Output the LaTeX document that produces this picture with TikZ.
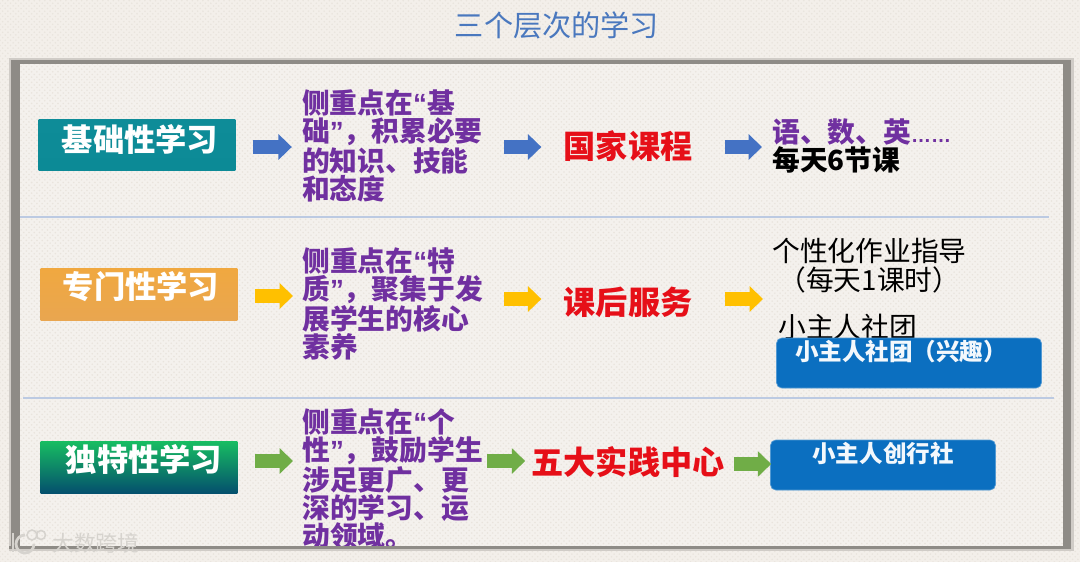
\documentclass[tikz,border=0pt]{standalone}
\usepackage{fontspec}
\setmainfont{Noto Sans CJK SC}
\newfontfamily\quotefont{Liberation Sans}
\usepackage{tikz}
\usetikzlibrary{arrows.meta, positioning, calc, patterns}

\definecolor{paper}{HTML}{F3EFEA}
\definecolor{paperdot}{HTML}{E9E4DD}
\definecolor{panel}{HTML}{F4F1ED}
\definecolor{framegray}{HTML}{8E8B86}
\definecolor{rulecol}{HTML}{BCCAE2}
\definecolor{titlecol}{HTML}{4A78BE}
\definecolor{purpletext}{HTML}{7030A0}
\definecolor{redtext}{HTML}{E60F18}
\definecolor{bluebox}{HTML}{0B6FC0}
\definecolor{markcol}{HTML}{D6D3CE}
\definecolor{arrowblue}{HTML}{4472C4}
\definecolor{arrowyellow}{HTML}{FFC000}
\definecolor{arrowgreen}{HTML}{70AD47}

\newcommand{\opq}{{\quotefont “}}
\newcommand{\clq}{{\quotefont ”}}
\newcommand{\dotsq}{{\quotefont\fontsize{11.4pt}{12pt}\selectfont ……}}

\begin{document}
\begin{tikzpicture}[
    x=0.02cm, y=-0.02cm,
    papertex/.style={fill=#1, postaction={pattern=crosshatch dots, pattern color=paperdot}},
    levelbox/.style={rectangle, minimum width=3.94cm, minimum height=1.03cm, inner sep=0pt},
    leveltext/.style={font=\fontsize{17.8pt}{20pt}\selectfont\bfseries, text=white, inner sep=0pt},
    focus/.style={font=\fontsize{15.8pt}{15.94pt}\selectfont\bfseries, text=purpletext, align=left, inner sep=0pt},
    course/.style={font=\fontsize{18.3pt}{20pt}\selectfont\bfseries, text=redtext, inner sep=0pt},
    detail/.style={font=\fontsize{15.8pt}{16pt}\selectfont, text=black, inner sep=0pt},
    clubbox/.style={rectangle, rounded corners=3pt, fill=bluebox, draw=bluebox!70!white, inner sep=0pt},
    clubtext/.style={font=\fontsize{13.4pt}{15pt}\selectfont\bfseries, text=white!95!bluebox, inner sep=0pt},
    blockarrow/.style={line width=7.6pt, color=#1, -{Triangle[length=7.6pt, width=14.2pt]}},
    rowrule/.style={draw=rulecol, line width=0.6pt},
    logostroke/.style={draw=markcol, line width=#1}
]
\useasboundingbox (0,0) rectangle (1080,562);
\fill[papertex=paper] (0,0) rectangle (1080,562);

% frame
\fill[framegray!35!paper] (9,58) rectangle (1074,551);
\fill[framegray] (11,60) rectangle (1071,548);
\fill[papertex=panel] (20,64) rectangle (1063,546);

\node[font=\fontsize{16.6pt}{18pt}\selectfont, text=titlecol, inner sep=0pt] (title) at (557,25) {三个层次的学习};

\draw[rowrule] (20,217) -- (1049,217);
\draw[rowrule] (23,398) -- (1054,398);

% first row
\coordinate (row1) at (0,147);
\node[levelbox, top color={rgb,255:red,14;green,140;blue,152}, middle color={rgb,255:red,7;green,169;blue,189}, bottom color={rgb,255:red,12;green,138;blue,150}] (basic) at (137,145) {};
\node[leveltext] (basictxt) at (140,139) {基础性学习};
\node[focus, right=1.32cm of basic, yshift=-0.01cm] (focusa) {侧重点在\opq 基\\础\clq ，积累必要\\的知识、技能\\和态度};
\node[course] (national) at (628,146) {国家课程};
\node[focus, anchor=west] (subjects) at (772,132) {语、数、英\dotsq};
\node[detail, font=\fontsize{15.8pt}{16pt}\selectfont\bfseries, anchor=west] (sixclass) at (772,160) {每天6节课};

% second row
\coordinate (row2) at (0,296);
\coordinate (row2b) at (0,299);
\node[levelbox, top color={rgb,255:red,240;green,168;blue,64}, middle color={rgb,255:red,253;green,187;blue,94}, bottom color={rgb,255:red,233;green,166;blue,80}] (special) at (139,294.5) {};
\node[leveltext] (specialtxt) at (141,287) {专门性学习};
\node[focus, anchor=west] (focusb) at (302,304) {侧重点在\opq 特\\质\clq ，聚集于发\\展学生的核心\\素养};
\node[course] (afterclass) at (628,302) {课后服务};
\node[detail, anchor=west] (homework) at (772,251) {个性化作业指导};
\node[detail, anchor=west] (hourly) at (778,280) {（每天1课时）};
\node[detail, anchor=west] (clubname) at (778,327) {小主人社团};
\node[clubbox, minimum width=5.3cm, minimum height=1cm] (clubbg) at (909,363) {};
\node[clubtext] (clubtxt) at (901,352) {小主人社团（兴趣）};

% third row
\coordinate (row3) at (0,461);
\coordinate (row3b) at (0,464);
\node[levelbox, top color={rgb,255:red,23;green,188;blue,98}, middle color={rgb,255:red,11;green,138;blue,107}, bottom color={rgb,255:red,4;green,79;blue,109}] (unique) at (139,467.5) {};
\node[leveltext] (uniquetxt) at (144,459) {独特性学习};
\node[focus, anchor=west] (focusc) at (302,479) {侧重点在\opq 个\\性\clq ，鼓励学生\\涉足更广、更\\深的学习、运\\动领域。};
\node[course] (centers) at (628,462) {五大实践中心};
\node[clubbox, minimum width=4.5cm, minimum height=1cm] (makerbg) at (883,465) {};
\node[clubtext] (makertxt) at (883,453) {小主人创行社};

% arrows
\draw[blockarrow=arrowblue, shorten <=0.34cm, shorten >=0.2cm] (basic.east |- row1) -- (focusa.west |- row1);
\draw[blockarrow=arrowblue, shorten <=0.42cm, shorten >=0.44cm] (focusa.east |- row1) -- (national.west |- row1);
\draw[blockarrow=arrowblue, shorten <=0.64cm, shorten >=0.2cm] (national.east |- row1) -- (subjects.west |- row1);
\draw[blockarrow=arrowyellow, shorten <=0.34cm, shorten >=0.18cm] (special.east |- row2) -- (focusb.west |- row2);
\draw[blockarrow=arrowyellow, shorten <=0.42cm, shorten >=0.44cm] (focusb.east |- row2b) -- (afterclass.west |- row2b);
\draw[blockarrow=arrowyellow, shorten <=0.64cm, shorten >=0.18cm] (afterclass.east |- row2b) -- (homework.west |- row2b);
\draw[blockarrow=arrowgreen, shorten <=0.34cm, shorten >=0.18cm] (unique.east |- row3) -- (focusc.west |- row3);
\draw[blockarrow=arrowgreen, shorten <=0.08cm, shorten >=0.12cm] (focusc.east |- row3) -- (centers.west |- row3);
\draw[blockarrow=arrowgreen, shorten <=0.18cm, shorten >=-0.02cm] (centers.east |- row3b) -- (makerbg.west |- row3b);

% bottom edge covers the last line
\fill[framegray] (9,546) rectangle (1071,549);
\fill[papertex=paper] (0,551) rectangle (1080,562);

% watermark
\draw[logostroke=1.3pt] (13,533) -- (13,552);
\draw[logostroke=1.6pt] (25,535) arc (-90:-360:9);
\draw[logostroke=0.9pt] (32,535) circle (5);
\draw[logostroke=0.9pt] (41,535) circle (4.5);
\node[font=\fontsize{12.4pt}{14pt}\selectfont, text=markcol, inner sep=0pt] (mark) at (96,543) {大数跨境};
\end{tikzpicture}
\end{document}
